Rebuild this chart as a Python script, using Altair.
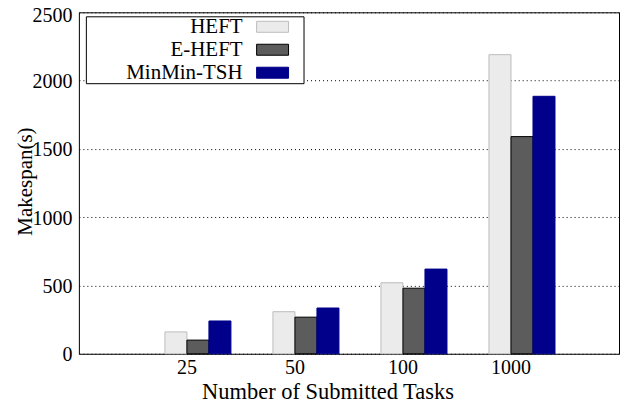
import altair as alt
import pandas as pd

tasks = ["25", "50", "100", "1000"]
series = ["HEFT", "E-HEFT", "MinMin-TSH"]
heft = [160, 308, 520, 2190]
eheft = [100, 268, 480, 1590]
minmin = [240, 335, 620, 1885]
y_ticks = [0, 500, 1000, 1500, 2000, 2500]

fills = ["#ebebeb", "#5c5c5c", "#00008b"]
strokes = ["#bdbdbd", "#000000", "#00008b"]

rows = []
for name, vals in zip(series, [heft, eheft, minmin]):
    for t, v in zip(tasks, vals):
        rows.append({"tasks": t, "algo": name, "makespan": v})
df = pd.DataFrame(rows)

FONT = "Liberation Serif"

legend = alt.Legend(
    title="\u00a0",
    titleOrient="left",
    titlePadding=136,
    titleFont=FONT,
    titleFontSize=20,
    orient="none",
    legendX=7,
    legendY=4,
    symbolType="M6.125,-1.375H14.125V1.375H6.125ZM17.375,0h0",
    symbolSize=64,
    symbolStrokeWidth=1,
    symbolOpacity=1,
    labelAlign="right",
    labelOffset=0,
    labelFont=FONT,
    labelFontSize=21,
    labelColor="black",
    padding=0,
    rowPadding=1,
    fillColor="white",
    strokeColor="black",
)

chart = (
    alt.Chart(df)
    .mark_bar(strokeWidth=1, opacity=1)
    .encode(
        x=alt.X(
            "tasks:N",
            sort=tasks,
            scale=alt.Scale(domain=tasks, paddingInner=0.185, paddingOuter=0.5926),
            axis=alt.Axis(
                title="Number of Submitted Tasks",
                labelAngle=0,
                ticks=False,
                domain=False,
                labelFont=FONT,
                labelFontSize=20,
                labelColor="black",
                labelPadding=4,
                titleFont=FONT,
                titleFontSize=22.5,
                titleFontWeight="normal",
                titleColor="black",
                titleX=249,
                titleY=45,
                titleBaseline="alphabetic",
            ),
        ),
        xOffset=alt.XOffset(
            "algo:N",
            scale=alt.Scale(domain=["_gap"] + series, paddingInner=0, paddingOuter=0),
        ),
        y=alt.Y(
            "makespan:Q",
            scale=alt.Scale(domain=[0, 2500], nice=False),
            axis=alt.Axis(
                values=y_ticks,
                format="d",
                title="Makespan(s)",
                grid=True,
                gridDash=[1, 3],
                gridColor="black",
                gridOpacity=1,
                ticks=False,
                domain=False,
                labelFont=FONT,
                labelFontSize=20,
                labelColor="black",
                labelPadding=7,
                labelOffset={"condition": {"test": "datum.value == 2500", "value": 3}, "value": 1},
                titleFont=FONT,
                titleFontSize=21,
                titleFontWeight="normal",
                titleColor="black",
                titleX=-53,
                titleY=169,
                titleBaseline="middle",
            ),
        ),
        color=alt.Color("algo:N", scale=alt.Scale(domain=series, range=fills), legend=legend),
        stroke=alt.Stroke("algo:N", scale=alt.Scale(domain=series, range=strokes), legend=legend),
    )
    .properties(
        width=541,
        height=342,
        padding={"left": 71, "top": 4, "right": 5, "bottom": 51},
        autosize="none",
        background="white",
    )
    .configure_view(stroke="black", strokeWidth=1)
)

chart.save("out.html", embed_options={"renderer": "svg", "actions": False})
